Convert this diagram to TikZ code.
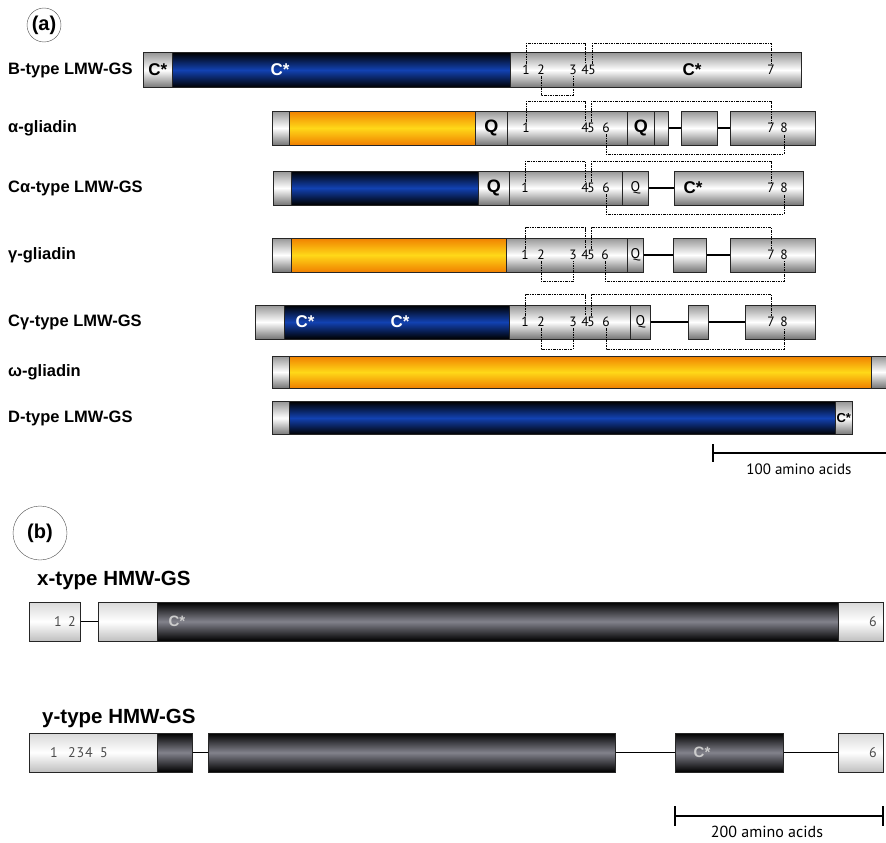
\documentclass[tikz,border=0pt]{standalone}
\usepackage{fontspec}
\setmainfont{Liberation Sans}
\newfontfamily\numfont{PT Sans}

\definecolor{bluemid}{RGB}{18,66,178}
\definecolor{orangeedge}{RGB}{240,128,0}
\definecolor{orangemid}{RGB}{255,216,24}
\definecolor{greyedge}{RGB}{150,150,150}
\definecolor{greydark}{RGB}{118,118,118}
\definecolor{hmwmid}{RGB}{130,130,140}

\tikzset{
  seg/.style={draw=black!85, line width=0.6pt, inner sep=0pt, anchor=west, minimum height=34pt},
  greyseg/.style={seg, top color=greyedge, bottom color=greydark, middle color=white},
  blueseg/.style={seg, top color=black, bottom color=black, middle color=bluemid},
  orangeseg/.style={seg, top color=orangeedge, bottom color=orangeedge, middle color=orangemid},
  darkseg/.style={seg, minimum height=39pt, top color=black, bottom color=black, middle color=hmwmid},
  whiteseg/.style={seg, minimum height=39pt, top color=black!15, bottom color=black!25, middle color=white},
  link/.style={line width=2.5pt},
  thinlink/.style={line width=1.8pt},
  bond/.style={dash pattern=on 2.5pt off 1pt on 1pt off 1pt, line width=1pt},
  num/.style={font=\numfont\fontsize{13.5}{13.5}\selectfont, text=black, inner sep=1pt},
  hmwnum/.style={font=\numfont\fontsize{14}{14}\selectfont, text=black!70, inner sep=1pt},
  smallq/.style={font=\numfont\fontsize{14}{14}\selectfont},
  bigq/.style={font=\bfseries\fontsize{18}{18}\selectfont},
  cstar/.style={font=\bfseries\fontsize{17}{17}\selectfont, inner sep=0pt},
  hmwc/.style={font=\bfseries\fontsize{15}{15}\selectfont, text=white!80!black, inner sep=0pt},
  rowlabel/.style={font=\bfseries\fontsize{16.5}{18}\selectfont, anchor=west, inner sep=0pt},
  hmwlabel/.style={font=\bfseries\fontsize{20.5}{22}\selectfont, anchor=west, inner sep=0pt},
  panel/.style={circle, draw=black!70, thin, inner sep=0pt, font=\bfseries\fontsize{20}{20}\selectfont},
  scalebar/.style={line width=2.5pt},
  scaletext/.style={font=\numfont\fontsize{15}{15}\selectfont}
}

\begin{document}
\begin{tikzpicture}[x=1pt,y=-1pt]
    \useasboundingbox (0,0) rectangle (886,843);

    % (a) LMW-GS and gliadins
    \node[panel, minimum size=34] (pa) at (44,25) {(a)};

    % B-type LMW-GS
    \node[rowlabel] (lb) at (8,70) {B-type LMW-GS};
    \node[greyseg, minimum height=35, minimum width=29, cstar] (b0) at (143,70) {C*};
    \node[blueseg, minimum height=35, minimum width=338] (bblue) at (172,70) {};
    \node[greyseg, minimum height=35, minimum width=291] (bgrey) at (510,70) {};
    \node[cstar, text=white] (bc1) at (280,70) {C*};
    \node[cstar] (bc2) at (692,70) {C*};
    \node[num] (b1) at (526,70) {1};
    \node[num] (b2) at (541,70) {2};
    \node[num] (b3) at (573,70) {3};
    \node[num] (b4) at (585,70) {4};
    \node[num] (b5) at (592,70) {5};
    \node[num] (b7) at (771,70) {7};
    % Disulphide bonds
    \draw[bond] (b1.north) -- ++(0,-20) -| (b4.north);
    \draw[bond] (b5.north) -- ++(0,-20) -| (b7.north);
    \draw[bond] (b2.south) -- ++(0,19) -| (b3.south);

    % alpha-gliadin
    \node[rowlabel] (la) at (8,128) {α-gliadin};
    \node[greyseg, minimum width=17] (a0) at (272,128) {};
    \node[orangeseg, minimum width=186] (aor) at (289,128) {};
    \node[greyseg, minimum width=32, bigq] (aq) at (475,128) {Q};
    \node[greyseg, minimum width=120] (ag) at (507,128) {};
    \node[greyseg, minimum width=27, bigq] (aq2) at (627,128) {Q};
    \node[greyseg, minimum width=14] (as) at (654,128) {};
    \node[greyseg, minimum width=36] (ab1) at (681,128) {};
    \node[greyseg, minimum width=85] (ab2) at (730,128) {};
    \draw[link] (as.east) -- (ab1.west);
    \draw[link] (ab1.east) -- (ab2.west);
    \node[num] (a1) at (526,128) {1};
    \node[num] (a4) at (585,128) {4};
    \node[num] (a5) at (591,128) {5};
    \node[num] (a6) at (606,128) {6};
    \node[num] (a7) at (771,128) {7};
    \node[num] (a8) at (784,128) {8};
    % Disulphide bonds
    \draw[bond] (a1.north) -- ++(0,-20) -| (a4.north);
    \draw[bond] (a5.north) -- ++(0,-20) -| (a7.north);
    \draw[bond] (a6.south) -- ++(0,20) -| (a8.south);

    % C-alpha-type LMW-GS
    \node[rowlabel] (lca) at (8,188) {Cα-type LMW-GS};
    \node[greyseg, minimum width=18] (ca0) at (273,188) {};
    \node[blueseg, minimum width=187] (cablue) at (291,188) {};
    \node[greyseg, minimum width=31, bigq] (caq) at (478,188) {Q};
    \node[greyseg, minimum width=113] (cag) at (509,188) {};
    \node[greyseg, minimum width=26, smallq] (caq2) at (622,188) {Q};
    \node[greyseg, minimum width=129] (cab) at (674,188) {};
    \draw[link] (caq2.east) -- (cab.west);
    \node[cstar] (cac) at (693,188) {C*};
    \node[num] (ca1) at (525,188) {1};
    \node[num] (ca4) at (585,188) {4};
    \node[num] (ca5) at (591,188) {5};
    \node[num] (ca6) at (606,188) {6};
    \node[num] (ca7) at (771,188) {7};
    \node[num] (ca8) at (784,188) {8};
    % Disulphide bonds
    \draw[bond] (ca1.north) -- ++(0,-20) -| (ca4.north);
    \draw[bond] (ca5.north) -- ++(0,-20) -| (ca7.north);
    \draw[bond] (ca6.south) -- ++(0,20) -| (ca8.south);

    % gamma-gliadin
    \node[rowlabel] (lg) at (8,255) {γ-gliadin};
    \node[greyseg, minimum width=19] (g0) at (272,255) {};
    \node[orangeseg, minimum width=215] (gor) at (291,255) {};
    \node[greyseg, minimum width=121] (gg) at (506,255) {};
    \node[greyseg, minimum width=16, smallq] (gq) at (627,255) {Q};
    \node[greyseg, minimum width=33] (gb1) at (673,255) {};
    \node[greyseg, minimum width=85] (gb2) at (730,255) {};
    \draw[link] (gq.east) -- (gb1.west);
    \draw[link] (gb1.east) -- (gb2.west);
    \node[num] (g1) at (525,255) {1};
    \node[num] (g2) at (541,255) {2};
    \node[num] (g3) at (573,255) {3};
    \node[num] (g4) at (585,255) {4};
    \node[num] (g5) at (591,255) {5};
    \node[num] (g6) at (605,255) {6};
    \node[num] (g7) at (771,255) {7};
    \node[num] (g8) at (784,255) {8};
    % Disulphide bonds
    \draw[bond] (g1.north) -- ++(0,-21) -| (g4.north);
    \draw[bond] (g5.north) -- ++(0,-21) -| (g7.north);
    \draw[bond] (g2.south) -- ++(0,20) -| (g3.south);
    \draw[bond] (g6.south) -- ++(0,20) -| (g8.south);

    % C-gamma-type LMW-GS
    \node[rowlabel] (lcg) at (8,322) {Cγ-type LMW-GS};
    \node[greyseg, minimum width=29] (cg0) at (255,322) {};
    \node[blueseg, minimum width=225] (cgblue) at (284,322) {};
    \node[greyseg, minimum width=121] (cgg) at (509,322) {};
    \node[greyseg, minimum width=20, smallq] (cgq) at (630,322) {Q};
    \node[greyseg, minimum width=20] (cgb1) at (688,322) {};
    \node[greyseg, minimum width=70] (cgb2) at (745,322) {};
    \draw[thinlink] (cgq.east) -- (cgb1.west);
    \draw[thinlink] (cgb1.east) -- (cgb2.west);
    \node[cstar, text=white] (cgc1) at (305,322) {C*};
    \node[cstar, text=white] (cgc2) at (400,322) {C*};
    \node[num] (cg1) at (525,322) {1};
    \node[num] (cg2) at (541,322) {2};
    \node[num] (cg3) at (573,322) {3};
    \node[num] (cg4) at (585,322) {4};
    \node[num] (cg5) at (591,322) {5};
    \node[num] (cg6) at (606,322) {6};
    \node[num] (cg7) at (771,322) {7};
    \node[num] (cg8) at (784,322) {8};
    % Disulphide bonds
    \draw[bond] (cg1.north) -- ++(0,-21) -| (cg4.north);
    \draw[bond] (cg5.north) -- ++(0,-21) -| (cg7.north);
    \draw[bond] (cg2.south) -- ++(0,21) -| (cg3.south);
    \draw[bond] (cg6.south) -- ++(0,21) -| (cg8.south);

    % omega-gliadin
    \node[rowlabel] (lw) at (8,372) {ω-gliadin};
    \node[greyseg, minimum height=32, minimum width=17] (w0) at (272,372) {};
    \node[orangeseg, minimum height=32, minimum width=582] (wor) at (289,372) {};
    \node[greyseg, minimum height=32, minimum width=22] (we) at (871,372) {};

    % D-type LMW-GS
    \node[rowlabel] (ld) at (8,418) {D-type LMW-GS};
    \node[greyseg, minimum height=33, minimum width=17] (d0) at (272,418) {};
    \node[blueseg, minimum height=33, minimum width=546] (dblue) at (289,418) {};
    \node[greyseg, minimum height=33, minimum width=17, font=\bfseries\fontsize{13}{13}\selectfont] (de) at (835,418) {C*};

    % Scale
    \coordinate (sa1) at (713,453);
    \coordinate (sa2) at (892,453);
    \draw[scalebar] (sa1) -- (sa2);
    \draw[scalebar] ([yshift=9pt]sa1) -- ([yshift=-9pt]sa1);
    \node[scaletext] (sat) at (799,469) {100 amino acids};

    % (b) HMW-GS
    \node[panel, minimum size=54] (pb) at (40,533) {(b)};

    % x-type HMW-GS
    \node[hmwlabel] (lx) at (37,580) {x-type HMW-GS};
    \node[whiteseg, minimum width=51] (x0) at (29,621.5) {};
    \node[whiteseg, minimum width=59] (xw) at (98,621.5) {};
    \node[darkseg, minimum width=681] (xd) at (157,621.5) {};
    \node[whiteseg, minimum width=45] (xe) at (838,621.5) {};
    \draw[thinlink] (x0.east) -- (xw.west);
    \node[hmwnum] (x1) at (58,621.5) {1};
    \node[hmwnum] (x2) at (72,621.5) {2};
    \node[hmwnum] (x6) at (873,621.5) {6};
    \node[hmwc] (xc) at (177,621.5) {C*};

    % y-type HMW-GS
    \node[hmwlabel] (ly) at (42,718) {y-type HMW-GS};
    \node[whiteseg, minimum width=128] (y0) at (29,752.5) {};
    \node[darkseg, minimum width=35] (yd1) at (157,752.5) {};
    \node[darkseg, minimum width=407] (yd2) at (208,752.5) {};
    \node[darkseg, minimum width=108] (yd3) at (675,752.5) {};
    \node[whiteseg, minimum width=45] (ye) at (838,752.5) {};
    \draw[thinlink] (yd1.east) -- (yd2.west);
    \draw[thinlink] (yd2.east) -- (yd3.west);
    \draw[thinlink] (yd3.east) -- (ye.west);
    \node[hmwnum] (y1) at (54,752.5) {1};
    \node[hmwnum] (y2) at (72,752.5) {2};
    \node[hmwnum] (y3) at (80.5,752.5) {3};
    \node[hmwnum] (y4) at (89,752.5) {4};
    \node[hmwnum] (y5) at (104,752.5) {5};
    \node[hmwnum] (y6) at (873,752.5) {6};
    \node[hmwc] (yc) at (702,752.5) {C*};

    % Scale
    \coordinate (sb1) at (675,816);
    \coordinate (sb2) at (883,816);
    \draw[scalebar] (sb1) -- (sb2);
    \draw[scalebar] ([yshift=10pt]sb1) -- ([yshift=-10pt]sb1);
    \draw[scalebar] ([yshift=10pt]sb2) -- ([yshift=-10pt]sb2);
    \node[scaletext, font=\numfont\fontsize{16}{16}\selectfont] (sbt) at (767,832) {200 amino acids};
\end{tikzpicture}
\end{document}
